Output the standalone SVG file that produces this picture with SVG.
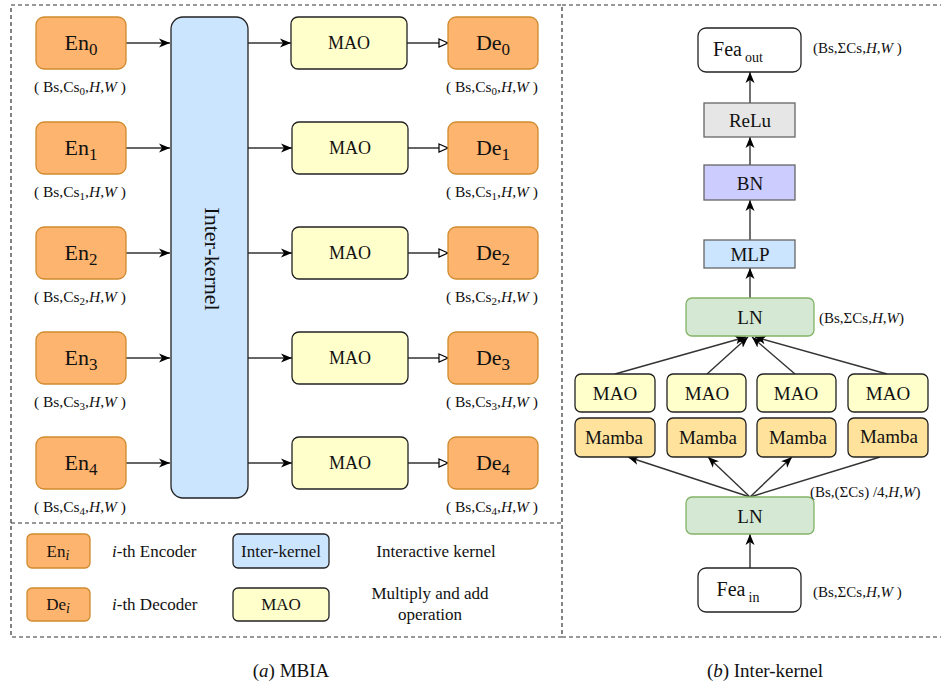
<svg xmlns="http://www.w3.org/2000/svg" width="941" height="686" viewBox="0 0 941 686">
<style>
text{font-family:"Liberation Serif","Times New Roman",serif;fill:#111}
.en{fill:#fdb46e;stroke:#cf8a2e;stroke-width:1.3}
.mao{fill:#ffffcc;stroke:#222;stroke-width:1.3}
.ik{fill:#cce5ff;stroke:#222;stroke-width:1.3}
.mamba{fill:#ffe39c;stroke:#222;stroke-width:1.3}
.ln{fill:#d5e8d4;stroke:#82b366;stroke-width:1.3}
.big{font-size:22px}
.mid{font-size:18px}
.rmid{font-size:19px}
.dim{font-size:15.5px}
.rdim{font-size:15px}
.leg{font-size:17px}
.cap{font-size:19px}
.c{stroke:#333;stroke-width:1.4;fill:none}
.dash{fill:none;stroke:#333;stroke-width:1.2;stroke-dasharray:4 3}
</style>
<defs>
<marker id="cl" markerUnits="userSpaceOnUse" markerWidth="12" markerHeight="10" refX="11" refY="5" orient="auto">
<path d="M0,0.5 L11,5 L0,9.5 L3,5 z" fill="#000"/>
</marker>
<marker id="op" markerUnits="userSpaceOnUse" markerWidth="12" markerHeight="10" refX="10" refY="5" orient="auto">
<path d="M1,1 L10,5 L1,9 z" fill="#fff" stroke="#000" stroke-width="1.2"/>
</marker>
</defs>

<!-- frames -->
<rect class="dash" x="11" y="5" width="551" height="632"/>
<line class="dash" x1="11" y1="523" x2="562" y2="523"/>
<line class="dash" x1="562" y1="5" x2="941" y2="5"/>
<line class="dash" x1="562" y1="637" x2="941" y2="637"/>

<!-- connectors -->
<g id="connectors">
<line class="c" x1="126" y1="43" x2="170" y2="43" marker-end="url(#cl)"/>
<line class="c" x1="126" y1="148" x2="170" y2="148" marker-end="url(#cl)"/>
<line class="c" x1="126" y1="253" x2="170" y2="253" marker-end="url(#cl)"/>
<line class="c" x1="126" y1="358" x2="170" y2="358" marker-end="url(#cl)"/>
<line class="c" x1="126" y1="463" x2="170" y2="463" marker-end="url(#cl)"/>
<line class="c" x1="248" y1="43" x2="291" y2="43" marker-end="url(#cl)"/>
<line class="c" x1="248" y1="148" x2="292" y2="148" marker-end="url(#cl)"/>
<line class="c" x1="248" y1="253" x2="292" y2="253" marker-end="url(#cl)"/>
<line class="c" x1="248" y1="358" x2="292" y2="358" marker-end="url(#cl)"/>
<line class="c" x1="248" y1="463" x2="292" y2="463" marker-end="url(#cl)"/>
<line class="c" x1="407" y1="43" x2="448" y2="43" marker-end="url(#op)"/>
<line class="c" x1="408" y1="148" x2="448" y2="148" marker-end="url(#op)"/>
<line class="c" x1="408" y1="253" x2="448" y2="253" marker-end="url(#op)"/>
<line class="c" x1="408" y1="358" x2="448" y2="358" marker-end="url(#op)"/>
<line class="c" x1="408" y1="463" x2="448" y2="463" marker-end="url(#op)"/>
<!-- right panel -->
<line class="c" x1="750" y1="103" x2="750" y2="72" stroke-width="2.2" marker-end="url(#cl)"/>
<line class="c" x1="750" y1="165" x2="750" y2="137" marker-end="url(#cl)"/>
<line class="c" x1="750" y1="240" x2="750" y2="200" marker-end="url(#cl)"/>
<line class="c" x1="750" y1="298" x2="750" y2="268" marker-end="url(#cl)"/>
<line class="c" x1="615" y1="374" x2="746" y2="337" marker-end="url(#cl)"/>
<line class="c" x1="707" y1="374" x2="748" y2="337" marker-end="url(#cl)"/>
<line class="c" x1="795" y1="374" x2="752" y2="337" marker-end="url(#cl)"/>
<line class="c" x1="887" y1="374" x2="755" y2="337" marker-end="url(#cl)"/>
<line class="c" x1="750" y1="497" x2="628" y2="457" marker-end="url(#cl)"/>
<line class="c" x1="750" y1="497" x2="708" y2="457" marker-end="url(#cl)"/>
<line class="c" x1="750" y1="497" x2="792" y2="457" marker-end="url(#cl)"/>
<line class="c" x1="750" y1="497" x2="880" y2="457"/>
<line class="c" x1="750" y1="568" x2="750" y2="534" stroke-width="2.2" marker-end="url(#cl)"/>
</g>

<!-- encoders -->
<g id="en0"><rect class="en" x="36" y="17" width="90" height="52" rx="8"/><text class="big" x="81" y="50" text-anchor="middle">En<tspan dy="5" font-size="17">0</tspan></text><text class="dim" x="80" y="92" text-anchor="middle">( Bs,Cs<tspan dy="3" font-size="11">0</tspan><tspan dy="-3">,</tspan><tspan font-style="italic">H</tspan>,<tspan font-style="italic">W</tspan> )</text></g>
<g id="en1"><rect class="en" x="36" y="122" width="90" height="52" rx="8"/><text class="big" x="81" y="155" text-anchor="middle">En<tspan dy="5" font-size="17">1</tspan></text><text class="dim" x="80" y="197" text-anchor="middle">( Bs,Cs<tspan dy="3" font-size="11">1</tspan><tspan dy="-3">,</tspan><tspan font-style="italic">H</tspan>,<tspan font-style="italic">W</tspan> )</text></g>
<g id="en2"><rect class="en" x="36" y="227" width="90" height="52" rx="8"/><text class="big" x="81" y="260" text-anchor="middle">En<tspan dy="5" font-size="17">2</tspan></text><text class="dim" x="80" y="302" text-anchor="middle">( Bs,Cs<tspan dy="3" font-size="11">2</tspan><tspan dy="-3">,</tspan><tspan font-style="italic">H</tspan>,<tspan font-style="italic">W</tspan> )</text></g>
<g id="en3"><rect class="en" x="36" y="332" width="90" height="52" rx="8"/><text class="big" x="81" y="365" text-anchor="middle">En<tspan dy="5" font-size="17">3</tspan></text><text class="dim" x="80" y="407" text-anchor="middle">( Bs,Cs<tspan dy="3" font-size="11">3</tspan><tspan dy="-3">,</tspan><tspan font-style="italic">H</tspan>,<tspan font-style="italic">W</tspan> )</text></g>
<g id="en4"><rect class="en" x="36" y="437" width="90" height="52" rx="8"/><text class="big" x="81" y="470" text-anchor="middle">En<tspan dy="5" font-size="17">4</tspan></text><text class="dim" x="80" y="512" text-anchor="middle">( Bs,Cs<tspan dy="3" font-size="11">4</tspan><tspan dy="-3">,</tspan><tspan font-style="italic">H</tspan>,<tspan font-style="italic">W</tspan> )</text></g>

<!-- inter-kernel -->
<g id="interkernel"><rect class="ik" x="171" y="17" width="77" height="481" rx="12"/><text class="big" transform="translate(212,259) rotate(90)" x="0" y="7" text-anchor="middle">Inter-kernel</text></g>

<!-- MAO -->
<g id="mao0"><rect class="mao" x="291" y="17" width="116" height="52" rx="7"/><text class="mid" x="349" y="49" text-anchor="middle">MAO</text></g>
<g id="mao1"><rect class="mao" x="292" y="122" width="116" height="52" rx="7"/><text class="mid" x="350" y="154" text-anchor="middle">MAO</text></g>
<g id="mao2"><rect class="mao" x="292" y="227" width="116" height="52" rx="7"/><text class="mid" x="350" y="259" text-anchor="middle">MAO</text></g>
<g id="mao3"><rect class="mao" x="292" y="332" width="116" height="52" rx="7"/><text class="mid" x="350" y="364" text-anchor="middle">MAO</text></g>
<g id="mao4"><rect class="mao" x="292" y="437" width="116" height="52" rx="7"/><text class="mid" x="350" y="469" text-anchor="middle">MAO</text></g>

<!-- decoders -->
<g id="de0"><rect class="en" x="448" y="17" width="90" height="52" rx="8"/><text class="big" x="493" y="50" text-anchor="middle">De<tspan dy="5" font-size="17">0</tspan></text><text class="dim" x="492" y="92" text-anchor="middle">( Bs,Cs<tspan dy="3" font-size="11">0</tspan><tspan dy="-3">,</tspan><tspan font-style="italic">H</tspan>,<tspan font-style="italic">W</tspan> )</text></g>
<g id="de1"><rect class="en" x="448" y="122" width="90" height="52" rx="8"/><text class="big" x="493" y="155" text-anchor="middle">De<tspan dy="5" font-size="17">1</tspan></text><text class="dim" x="492" y="197" text-anchor="middle">( Bs,Cs<tspan dy="3" font-size="11">1</tspan><tspan dy="-3">,</tspan><tspan font-style="italic">H</tspan>,<tspan font-style="italic">W</tspan> )</text></g>
<g id="de2"><rect class="en" x="448" y="227" width="90" height="52" rx="8"/><text class="big" x="493" y="260" text-anchor="middle">De<tspan dy="5" font-size="17">2</tspan></text><text class="dim" x="492" y="302" text-anchor="middle">( Bs,Cs<tspan dy="3" font-size="11">2</tspan><tspan dy="-3">,</tspan><tspan font-style="italic">H</tspan>,<tspan font-style="italic">W</tspan> )</text></g>
<g id="de3"><rect class="en" x="448" y="332" width="90" height="52" rx="8"/><text class="big" x="493" y="365" text-anchor="middle">De<tspan dy="5" font-size="17">3</tspan></text><text class="dim" x="492" y="407" text-anchor="middle">( Bs,Cs<tspan dy="3" font-size="11">3</tspan><tspan dy="-3">,</tspan><tspan font-style="italic">H</tspan>,<tspan font-style="italic">W</tspan> )</text></g>
<g id="de4"><rect class="en" x="448" y="437" width="90" height="52" rx="8"/><text class="big" x="493" y="470" text-anchor="middle">De<tspan dy="5" font-size="17">4</tspan></text><text class="dim" x="492" y="512" text-anchor="middle">( Bs,Cs<tspan dy="3" font-size="11">4</tspan><tspan dy="-3">,</tspan><tspan font-style="italic">H</tspan>,<tspan font-style="italic">W</tspan> )</text></g>

<!-- legend -->
<g id="legend">
<rect class="en" x="27" y="534" width="63" height="34" rx="5"/><text class="leg" x="58" y="557" text-anchor="middle">En<tspan dy="3" font-size="14" font-style="italic">i</tspan></text>
<text class="leg" x="112" y="557"><tspan font-style="italic">i</tspan>-th Encoder</text>
<rect class="ik" x="233" y="534" width="96" height="34" rx="5"/><text class="leg" x="281" y="557" text-anchor="middle">Inter-kernel</text>
<text class="leg" x="436" y="557" text-anchor="middle">Interactive kernel</text>
<rect class="en" x="27" y="588" width="63" height="33" rx="5"/><text class="leg" x="58" y="610" text-anchor="middle">De<tspan dy="3" font-size="14" font-style="italic">i</tspan></text>
<text class="leg" x="112" y="610"><tspan font-style="italic">i</tspan>-th Decoder</text>
<rect class="mao" x="233" y="588" width="96" height="33" rx="5"/><text class="leg" x="281" y="610" text-anchor="middle">MAO</text>
<text class="leg" x="430" y="599" text-anchor="middle">Multiply and add</text>
<text class="leg" x="430" y="620" text-anchor="middle">operation</text>
</g>

<!-- right panel nodes -->
<g id="feaout"><rect x="698" y="28" width="103" height="44" rx="8" fill="#fff" stroke="#222" stroke-width="1.3"/><text x="738" y="56" font-size="20" text-anchor="middle">Fea<tspan dx="3" dy="6" font-size="14">out</tspan></text><text class="rdim" x="813" y="53">(Bs,ΣCs,<tspan font-style="italic">H</tspan>,<tspan font-style="italic">W</tspan> )</text></g>
<g id="relu"><rect x="704" y="103" width="91" height="34" fill="#e6e6e6" stroke="#666" stroke-width="1.3"/><text class="rmid" x="750" y="127" text-anchor="middle">ReLu</text></g>
<g id="bn"><rect x="704" y="165" width="91" height="35" fill="#ccccff" stroke="#666" stroke-width="1.3"/><text class="rmid" x="750" y="190" text-anchor="middle">BN</text></g>
<g id="mlp"><rect x="704" y="240" width="91" height="28" fill="#cce5ff" stroke="#666" stroke-width="1.3"/><text class="rmid" x="750" y="261" text-anchor="middle">MLP</text></g>
<g id="ln_top"><rect class="ln" x="686" y="298" width="128" height="38" rx="6"/><text class="rmid" x="750" y="324" text-anchor="middle">LN</text><text class="rdim" x="819" y="323">(Bs,ΣCs,<tspan font-style="italic">H</tspan>,<tspan font-style="italic">W</tspan>)</text></g>
<g id="mao_r1"><rect class="mao" x="575" y="374" width="80" height="38" rx="6"/><text class="rmid" x="615" y="400" text-anchor="middle">MAO</text></g>
<g id="mao_r2"><rect class="mao" x="667" y="374" width="79" height="38" rx="6"/><text class="rmid" x="707" y="400" text-anchor="middle">MAO</text></g>
<g id="mao_r3"><rect class="mao" x="757" y="374" width="79" height="38" rx="6"/><text class="rmid" x="796" y="400" text-anchor="middle">MAO</text></g>
<g id="mao_r4"><rect class="mao" x="848" y="374" width="80" height="38" rx="6"/><text class="rmid" x="888" y="400" text-anchor="middle">MAO</text></g>
<g id="mamba1"><rect class="mamba" x="575" y="418" width="80" height="39" rx="6"/><text class="rmid" x="614" y="444" text-anchor="middle">Mamba</text></g>
<g id="mamba2"><rect class="mamba" x="667" y="418" width="79" height="39" rx="6"/><text class="rmid" x="708" y="444" text-anchor="middle">Mamba</text></g>
<g id="mamba3"><rect class="mamba" x="757" y="418" width="79" height="39" rx="6"/><text class="rmid" x="798" y="444" text-anchor="middle">Mamba</text></g>
<g id="mamba4"><rect class="mamba" x="848" y="418" width="80" height="39" rx="6"/><text class="rmid" x="889" y="443" text-anchor="middle">Mamba</text></g>
<g id="ln_bot"><rect class="ln" x="686" y="497" width="128" height="37" rx="6"/><text class="rmid" x="750" y="523" text-anchor="middle">LN</text><text class="rdim" x="810" y="497">(Bs,(ΣCs) /4,<tspan font-style="italic">H</tspan>,<tspan font-style="italic">W</tspan>)</text></g>
<g id="feain"><rect x="698" y="568" width="103" height="44" rx="8" fill="#fff" stroke="#222" stroke-width="1.3"/><text x="738" y="596" font-size="20" text-anchor="middle">Fea<tspan dx="3" dy="6" font-size="14">in</tspan></text><text class="rdim" x="813" y="597">(Bs,ΣCs,<tspan font-style="italic">H</tspan>,<tspan font-style="italic">W</tspan> )</text></g>

<!-- captions -->
<text class="cap" x="291" y="677" text-anchor="middle" font-family="Liberation Serif, serif">(<tspan font-style="italic">a</tspan>)  MBIA</text>
<text class="cap" x="765" y="677" text-anchor="middle" font-family="Liberation Serif, serif">(<tspan font-style="italic">b</tspan>)  Inter-kernel</text>
</svg>
